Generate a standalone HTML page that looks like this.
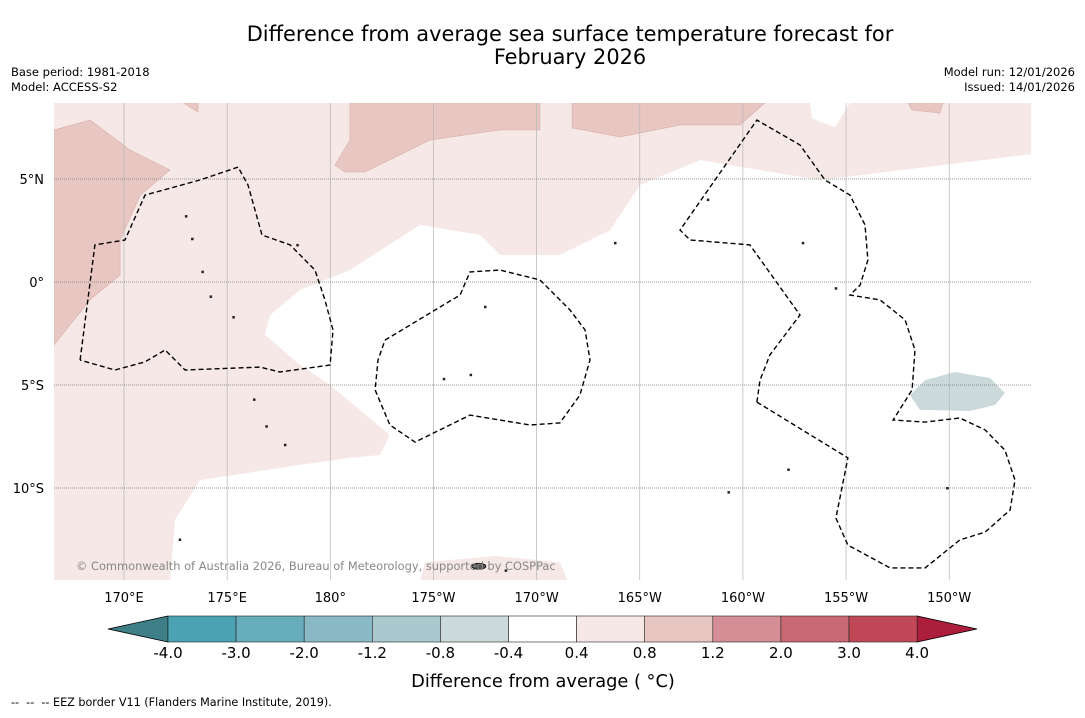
<!DOCTYPE html>
<html><head><meta charset="utf-8"><style>
body{margin:0;background:#fff;width:1085px;height:713px;overflow:hidden;font-family:"Liberation Sans","DejaVu Sans",sans-serif}
text{white-space:pre}
</style></head><body>
<svg id="c" width="1085" height="713" xmlns="http://www.w3.org/2000/svg" font-family="DejaVu Sans, Liberation Sans, sans-serif"></svg>
<script>
const lonTicks=[170,175,180,185,190,195,200,205,210];
const lonLabels=["170°E","175°E","180°","175°W","170°W","165°W","160°W","155°W","150°W"];
const latTicks=[5,0,-5,-10];
const latLabels=["5°N","0°","5°S","10°S"];
const cbLevels=["-4.0","-3.0","-2.0","-1.2","-0.8","-0.4","0.4","0.8","1.2","2.0","3.0","4.0"];
const cbColors=["#4aa2b3","#68adbb","#89b9c5","#a9c9ce","#cbd9da","#ffffff","#f5e8e6","#e8c6c1","#d58e96","#ca6873","#bf4756"];
const cbLow="#3e7f87", cbHigh="#ad1e3c";
const whiteArea=[[214,6.21],[203.74,4.95],[197.92,5.92],[195.01,4.71],[193.56,2.52],[191.13,1.31],[188.23,1.31],[187.26,2.28],[184.35,2.77],[180.95,0.58],[178.53,-0.39],[177.08,-1.6],[176.83,-2.57],[178.53,-4.03],[179.99,-5.0],[182.89,-7.43],[182.41,-8.4],[180.95,-8.54],[178.53,-8.88],[173.68,-9.61],[172.47,-11.55],[172.23,-14.5],[184.35,-14.5],[184.6,-13.6],[188,-13.3],[191.13,-13.6],[191.5,-14.5],[214,-14.5]];
const whiteHole=[[203.25,8.7],[203.35,7.94],[204.46,7.5],[205.19,8.7]];
const darkPink=[
[[166.6,7.38],[168.35,7.86],[170.29,6.41],[172.23,5.44],[170.78,4.22],[169.81,2.04],[169.81,0.34],[168.35,-0.87],[166.6,-3.06]],
[[180.95,8.7],[180.95,6.89],[180.23,5.68],[180.71,5.34],[181.68,5.34],[184.83,6.89],[188.23,7.38],[190.16,7.38],[190.16,8.7]],
[[191.72,8.7],[191.72,7.48],[194.04,7.04],[196.95,7.62],[199.86,7.62],[201.07,8.7]],
[[208.0,8.7],[208.2,8.35],[209.55,8.2],[209.7,8.7]],
[[172.86,8.7],[173.59,8.25],[173.59,8.7]]];
const blueBlob=[[208.1,-5.49],[208.83,-4.76],[210.28,-4.37],[211.98,-4.66],[212.7,-5.39],[212.22,-5.97],[211.01,-6.26],[208.58,-6.21]];
const eez=[
[[167.87,-3.79],[168.59,1.8],[170.05,2.04],[171.02,4.22],[173.68,4.95],[175.53,5.58],[176.01,4.71],[176.69,2.28],[178.05,1.8],[179.26,0.58],[179.74,-0.87],[180.13,-2.33],[179.99,-4.03],[177.56,-4.37],[176.59,-4.13],[172.96,-4.27],[171.99,-3.3],[171.02,-3.88],[169.56,-4.27],[167.87,-3.79]],
[[182.65,-2.82],[186.29,-0.63],[186.77,0.49],[188.23,0.58],[190.16,0.1],[191.62,-1.36],[192.35,-2.33],[192.59,-3.79],[192.1,-5.49],[191.13,-6.84],[189.68,-6.94],[186.77,-6.46],[184.11,-7.77],[182.89,-6.94],[182.17,-5.24],[182.31,-3.79],[182.65,-2.82]],
[[200.68,-5.83],[205.09,-8.54],[204.51,-11.46],[205.09,-12.77],[207.13,-13.88],[208.83,-13.88],[210.52,-12.52],[211.74,-12.14],[212.95,-11.07],[213.19,-9.61],[212.7,-8.16],[211.74,-7.18],[210.52,-6.6],[208.83,-6.8],[207.28,-6.7],[208.2,-5.24],[208.34,-3.3],[207.86,-1.84],[206.65,-0.87],[205.19,-0.63],[205.68,-0.15],[206.06,1.07],[205.92,2.77],[205.19,4.22],[203.98,4.95],[202.77,6.65],[200.68,7.86],[198.65,4.95],[196.95,2.52],[197.44,2.04],[200.34,1.8],[202.77,-1.6],[201.31,-3.54],[200.83,-4.76],[200.68,-5.83]]];
const islands=[[173,3.2],[173.3,2.1],[173.8,0.5],[174.2,-0.7],[175.3,-1.7],[178.4,1.8],[187.5,-1.2],[185.5,-4.7],[186.8,-4.5],[193.8,1.9],[198.3,4.0],[202.9,1.9],[204.5,-0.3],[209.9,-10.0],[199.3,-10.2],[202.2,-9.1],[165.7,-11.8],[172.7,-12.5],[187.0,-13.8],[188.5,-14.0],[176.3,-5.7],[176.9,-7.0],[177.8,-7.9]];

const X0=54,X1=1031,Y0=103,Y1=580;
const xs=lon=>124+(lon-170)*20.63;
const ys=lat=>282-lat*20.6;
const S="http://www.w3.org/2000/svg", svg=document.getElementById('c');
function mk(t,a,p){const e=document.createElementNS(S,t);for(const k in a)e.setAttribute(k,a[k]);(p||svg).appendChild(e);return e;}
function txt(s,a,p){const e=mk('text',a,p);e.textContent=s;return e;}
const pts=arr=>arr.map(p=>xs(p[0]).toFixed(1)+','+ys(p[1]).toFixed(1)).join(' ');

let e;
e=txt("Difference from average sea surface temperature forecast for",{x:570,y:41,"text-anchor":"middle","font-size":20.9});

e=txt("February 2026",{x:570,y:64,"text-anchor":"middle","font-size":20.9});

const meta=[["Base period: 1981-2018",11,76,"start","base-period"],["Model: ACCESS-S2",11,91,"start","model-name"],["Model run: 12/01/2026",1075,76,"end","model-run"],["Issued: 14/01/2026",1075,91,"end","issued-date"]];
meta.forEach(m=>{const t=txt(m[0],{x:m[1],y:m[2],"text-anchor":m[3],"font-size":11.5});
});

const defs=mk('defs',{});const cp=mk('clipPath',{id:'mc'},defs);mk('rect',{x:X0,y:Y0,width:X1-X0,height:Y1-Y0},cp);
const g=mk('g',{"clip-path":"url(#mc)"});

e=mk('rect',{x:X0,y:Y0,width:X1-X0,height:Y1-Y0,fill:cbColors[6]},g);

e=mk('polygon',{points:pts(whiteArea),fill:"#fff"},g);

e=mk('polygon',{points:pts(whiteHole),fill:"#fff"},g);

darkPink.forEach(poly=>{const p=mk('polygon',{points:pts(poly),fill:cbColors[7],stroke:"#d8b0aa","stroke-width":0.6},g);
});
e=mk('polygon',{points:pts(blueBlob),fill:cbColors[4]},g);

lonTicks.forEach(l=>{const v=mk('line',{x1:xs(l),x2:xs(l),y1:Y0,y2:Y1,stroke:"#b5b5b5","stroke-width":0.7},g);
});
latTicks.forEach(l=>{const h=mk('line',{x1:X0,x2:X1,y1:ys(l),y2:ys(l),stroke:"#777","stroke-width":0.7,"stroke-dasharray":"1,1"},g);
});
islands.forEach(p=>{const r=mk('rect',{x:xs(p[0])-1,y:ys(p[1])-1,width:2.5,height:2.5,fill:"#222"},g);
});
e=mk('ellipse',{cx:xs(187.2),cy:ys(-13.8),rx:7,ry:3,fill:"#555",stroke:"#000","stroke-width":0.8},g);

eez.forEach(l=>{const p=mk('polyline',{points:pts(l),fill:"none",stroke:"#000","stroke-width":1.4,"stroke-dasharray":"5,3"},g);
});
e=txt("© Commonwealth of Australia 2026, Bureau of Meteorology, supported by COSPPac",{x:76,y:570,"font-size":11.4,fill:"#888"},g);


lonTicks.forEach((l,i)=>{const t=txt(lonLabels[i],{x:xs(l),y:602,"text-anchor":"middle","font-size":13});
});
latTicks.forEach((l,i)=>{const t=txt(latLabels[i],{x:44,y:ys(l)+5,"text-anchor":"end","font-size":13});
});

// colorbar
const cbx=i=>168+i*68.1, cbT=616, cbB=642, cbM=629;
const cb=mk('g',{});
e=mk('polygon',{points:`108,${cbM} ${cbx(0)},${cbT} ${cbx(0)},${cbB}`,fill:cbLow,stroke:"#000","stroke-width":0.8},cb);

e=mk('polygon',{points:`977,${cbM} ${cbx(11)},${cbT} ${cbx(11)},${cbB}`,fill:cbHigh,stroke:"#000","stroke-width":0.8},cb);

cbColors.forEach((c,i)=>{const r=mk('rect',{x:cbx(i),y:cbT,width:68.1,height:cbB-cbT,fill:c,stroke:"#222","stroke-width":0.6},cb);
});
cbLevels.forEach((s,i)=>{const t=txt(s,{x:cbx(i),y:658,"text-anchor":"middle","font-size":15});
});
e=txt("Difference from average ( °C)",{x:543,y:687,"text-anchor":"middle","font-size":17.8});

e=txt("--  --  -- EEZ border V11 (Flanders Marine Institute, 2019).",{x:11,y:706,"font-size":11.2});

</script>
</body></html>
